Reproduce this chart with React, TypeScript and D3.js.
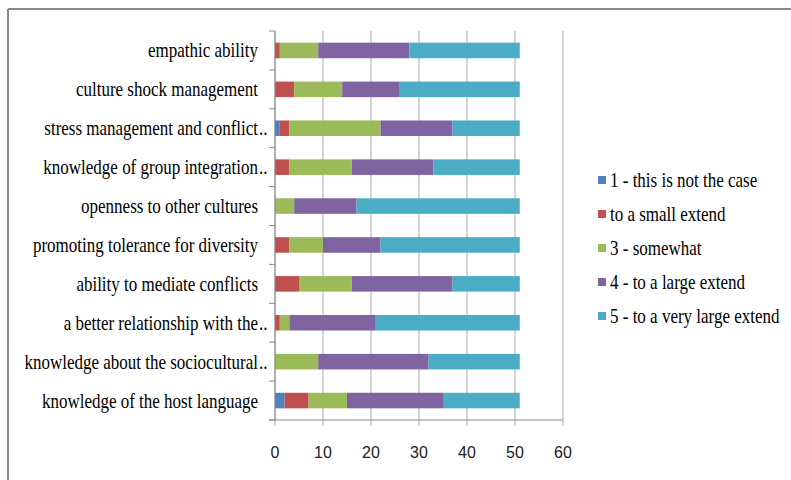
import React from "react";
import * as d3 from "d3";

// Categories, listed top to bottom as they appear on the chart
const categories = [
  "empathic ability",
  "culture shock management",
  "stress management and conflict..",
  "knowledge of group integration..",
  "openness to other cultures",
  "promoting tolerance for diversity",
  "ability to mediate conflicts",
  "a better relationship with the..",
  "knowledge about the sociocultural..",
  "knowledge of the host language",
];

const seriesNames = [
  "1 - this is not the case",
  "to a small extend",
  "3 - somewhat",
  "4 - to a large extend",
  "5 - to a very large extend",
];

// Number of answers per category, one array per rating
const notTheCase = [0, 0, 1, 0, 0, 0, 0, 0, 0, 2];
const smallExtend = [1, 4, 2, 3, 0, 3, 5, 1, 0, 5];
const somewhat = [8, 10, 19, 13, 4, 7, 11, 2, 9, 8];
const largeExtend = [19, 12, 15, 17, 13, 12, 21, 18, 23, 20];
const veryLargeExtend = [23, 25, 14, 18, 34, 29, 14, 30, 19, 16];

const xTicks = [0, 10, 20, 30, 40, 50, 60];

const colors = ["#4F81BD", "#C0504D", "#9BBB59", "#8064A2", "#4BACC6"];

const W = 791;
const H = 480;
const plot = { left: 275, right: 563, top: 31, bottom: 420 };
const serif = "'Liberation Serif', 'Times New Roman', serif";
const sans = "'Liberation Sans', Arial, sans-serif";
const squeeze = 0.85;
const labelEnd = 258;

export default function App() {
  const rows = categories.map((c, i) => ({
    category: c,
    s0: notTheCase[i],
    s1: smallExtend[i],
    s2: somewhat[i],
    s3: largeExtend[i],
    s4: veryLargeExtend[i],
  }));
  const keys = ["s0", "s1", "s2", "s3", "s4"];
  const stacked = d3.stack<any>().keys(keys)(rows);

  const x = d3.scaleLinear().domain([0, 60]).range([plot.left, plot.right]);
  const y = d3
    .scaleBand<string>()
    .domain(categories)
    .range([plot.top, plot.bottom])
    .paddingInner(0.6)
    .paddingOuter(0.3);
  const band = (plot.bottom - plot.top) / categories.length;

  return (
    <svg
      width={W}
      height={H}
      style={{ position: "absolute", left: 0, top: 0, background: "#fff" }}
    >
      {/* frame */}
      <line x1={8} y1={9} x2={W} y2={9} stroke="#888" strokeWidth={2} />
      <line x1={8} y1={9} x2={8} y2={H} stroke="#888" strokeWidth={2} />

      {/* vertical gridlines */}
      {xTicks.map((t) => (
        <line
          key={"g" + t}
          x1={x(t)}
          x2={x(t)}
          y1={plot.top}
          y2={plot.bottom + 6}
          stroke="#c6c6c6"
          strokeWidth={1.5}
        />
      ))}

      {/* stacked bars */}
      {stacked.map((layer, si) => (
        <g key={layer.key} fill={colors[si]}>
          {layer.map((d, i) =>
            d[1] - d[0] > 0 ? (
              <rect
                key={i}
                x={x(d[0])}
                y={y(categories[i])!}
                width={x(d[1]) - x(d[0])}
                height={y.bandwidth()}
              />
            ) : null
          )}
        </g>
      ))}

      {/* category axis */}
      <line x1={plot.left} x2={plot.left} y1={plot.top} y2={plot.bottom} stroke="#888" strokeWidth={1} />
      {d3.range(categories.length + 1).map((i) => (
        <line
          key={"t" + i}
          x1={plot.left - 6}
          x2={plot.left}
          y1={plot.top + i * band}
          y2={plot.top + i * band}
          stroke="#888"
          strokeWidth={1}
        />
      ))}
      {categories.map((c) => {
        const cy = y(c)! + y.bandwidth() / 2;
        const cut = c.endsWith("..");
        const body = cut ? c.slice(0, -2) : c;
        return (
          <g key={c} fontFamily={serif} fontSize={20} fill="#000">
            <text
              transform={`translate(${labelEnd},${cy}) scale(${squeeze},1)`}
              textAnchor="end"
              dominantBaseline="central"
            >
              {body}
            </text>
            {cut && (
              <text
                transform={`translate(${labelEnd + 1},${cy}) scale(${squeeze},1)`}
                dominantBaseline="central"
              >
                ..
              </text>
            )}
          </g>
        );
      })}

      {/* value axis */}
      <line x1={plot.left - 6} x2={plot.right} y1={plot.bottom} y2={plot.bottom} stroke="#888" strokeWidth={1} />
      {xTicks.map((t) => (
        <text
          key={"l" + t}
          x={x(t)}
          y={452}
          textAnchor="middle"
          dominantBaseline="central"
          fontFamily={sans}
          fontSize={16}
          fill="#222"
        >
          {t}
        </text>
      ))}

      {/* legend */}
      {seriesNames.map((name, i) => {
        const cy = 180 + i * 34;
        return (
          <g key={name}>
            <rect x={598} y={cy - 4} width={8} height={8} fill={colors[i]} />
            <text
              transform={`translate(610,${cy}) scale(${squeeze},1)`}
              dominantBaseline="central"
              fontFamily={serif}
              fontSize={20}
              fill="#000"
            >
              {name}
            </text>
          </g>
        );
      })}
    </svg>
  );
}
